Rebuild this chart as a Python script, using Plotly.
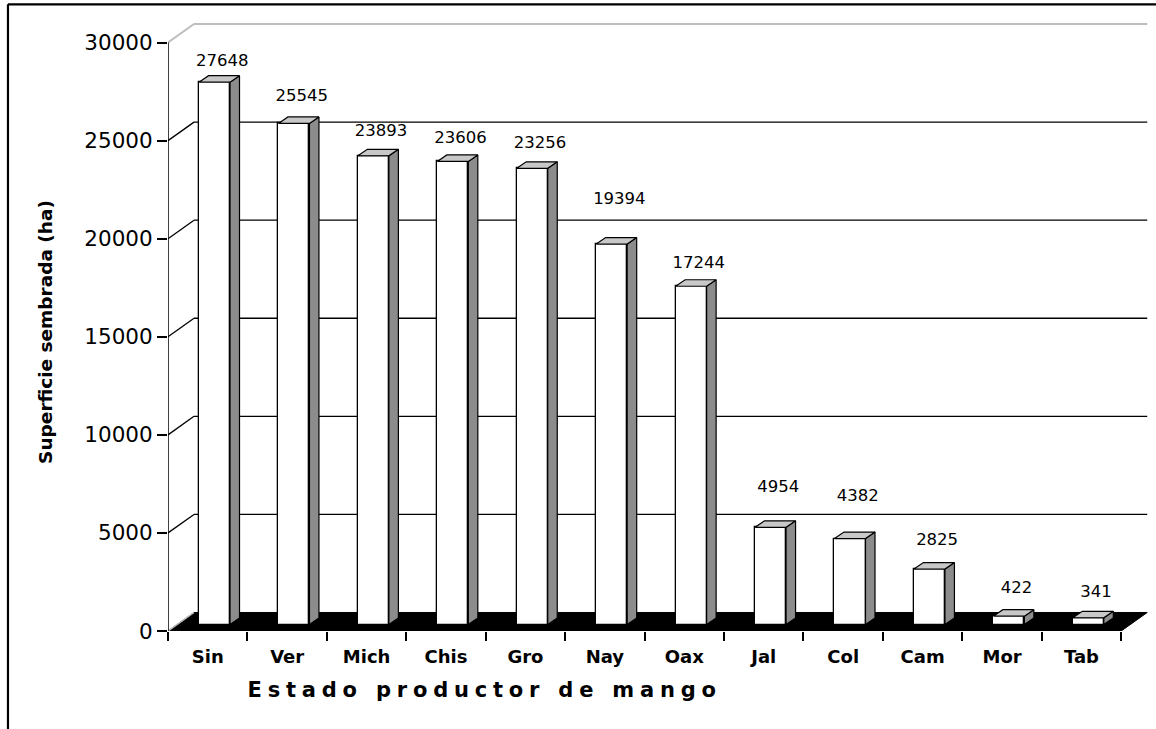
import plotly.graph_objects as go

# ---------------- data ----------------
states = ["Sin", "Ver", "Mich", "Chis", "Gro", "Nay", "Oax", "Jal", "Col", "Cam", "Mor", "Tab"]
area_ha = [27648, 25545, 23893, 23606, 23256, 19394, 17244, 4954, 4382, 2825, 422, 341]
y_ticks = [0, 5000, 10000, 15000, 20000, 25000, 30000]

# ---------------- styling / geometry (pixels) ----------------
W, H = 1156, 729
X0_PX = 168.0          # pixel of category axis start
UX = 79.42             # px per category
Y0_PX = 631.0          # pixel of value 0 (front)
UY = 588.3 / 30000     # px per value unit
XMAX = 12.4
YMAX = 31200

WALL_DX = 26 / UX
WALL_DY = 18.5 / UY
BAR_X0 = 31 / UX
BAR_W = 31 / UX
BAR_BASE = 6.5 / UY
SIDE_DX = 9.5 / UX
SIDE_DY = 6.5 / UY
LABEL_DX = 7.7 / UX
label_lift_px = [20, 27, 24, 23, 24, 44, 22, 39, 42, 28, 27, 25]

FONT = "DejaVu Sans, Verdana, sans-serif"
TOP_COLOR = "#C8C8C8"
SIDE_COLOR = "#8C8C8C"
WALL_EDGE = "#BDBDBD"
XTITLE_SIZE = 21
XTITLE_SPACING_PX = 5.8

ml = X0_PX
pw = XMAX * UX
mr = W - ml - pw
mb = H - Y0_PX
ph = YMAX * UY
mt = H - mb - ph


def px_to_paper_x(px):
    return (px - ml) / pw


def px_to_paper_y(py):
    return (Y0_PX - py) / ph


fig = go.Figure()

n = len(states)
centers = [i + BAR_X0 + BAR_W / 2 for i in range(n)]

# front faces
fig.add_trace(go.Bar(
    x=centers, y=area_ha, base=[BAR_BASE] * n, width=BAR_W,
    marker=dict(color="white", line=dict(color="black", width=1.3)),
    hoverinfo="skip", showlegend=False,
))

# top faces and side faces
tx, ty, sx, sy = [], [], [], []
for i, v in enumerate(area_ha):
    xl = i + BAR_X0
    xr = xl + BAR_W
    top = BAR_BASE + v
    tx += [xl, xr, xr + SIDE_DX, xl + SIDE_DX, xl, None]
    ty += [top, top, top + SIDE_DY, top + SIDE_DY, top, None]
    sx += [xr, xr, xr + SIDE_DX, xr + SIDE_DX, xr, None]
    sy += [BAR_BASE, top, top + SIDE_DY, BAR_BASE + SIDE_DY, BAR_BASE, None]

fig.add_trace(go.Scatter(x=sx, y=sy, mode="lines", fill="toself", fillcolor=SIDE_COLOR,
                         line=dict(color="black", width=1.2), hoverinfo="skip", showlegend=False))
fig.add_trace(go.Scatter(x=tx, y=ty, mode="lines", fill="toself", fillcolor=TOP_COLOR,
                         line=dict(color="black", width=1.2), hoverinfo="skip", showlegend=False))

# data labels
fig.add_trace(go.Scatter(
    x=[c + LABEL_DX for c in centers],
    y=[BAR_BASE + v + lift / UY for v, lift in zip(area_ha, label_lift_px)],
    mode="text", text=[str(v) for v in area_ha], textposition="middle center",
    textfont=dict(family=FONT, size=16.5, color="black"),
    hoverinfo="skip", showlegend=False, cliponaxis=False,
))

shapes = []
# back wall gridlines + side wall diagonals
for v in y_ticks:
    if v == 0:
        continue
    col = WALL_EDGE if v == y_ticks[-1] else "black"
    w = 2 if v == y_ticks[-1] else 1.3
    shapes.append(dict(type="line", xref="x", yref="y", x0=WALL_DX, y0=v + WALL_DY,
                       x1=n + WALL_DX, y1=v + WALL_DY, line=dict(color=col, width=w), layer="below"))
    shapes.append(dict(type="line", xref="x", yref="y", x0=0, y0=v,
                       x1=WALL_DX, y1=v + WALL_DY, line=dict(color=col, width=w), layer="below"))
# floor
shapes.append(dict(type="path", xref="x", yref="y",
                   path=f"M 0 0 L {n} 0 L {n + WALL_DX} {WALL_DY} L {WALL_DX} {WALL_DY} Z",
                   fillcolor="black", line=dict(color="black", width=1), layer="below"))
shapes.append(dict(type="line", xref="x", yref="y", x0=0, y0=0, x1=WALL_DX, y1=WALL_DY,
                   line=dict(color=WALL_EDGE, width=1.5), layer="below"))
# value axis line
shapes.append(dict(type="line", xref="x", yref="y", x0=0, y0=0, x1=0, y1=y_ticks[-1],
                   line=dict(color="black", width=1.5), layer="above"))
# outer border (top and left)
shapes.append(dict(type="line", xref="paper", yref="paper",
                   x0=px_to_paper_x(8), y0=px_to_paper_y(4.5), x1=px_to_paper_x(W), y1=px_to_paper_y(4.5),
                   line=dict(color="black", width=2.2)))
shapes.append(dict(type="line", xref="paper", yref="paper",
                   x0=px_to_paper_x(8), y0=px_to_paper_y(4.5), x1=px_to_paper_x(8), y1=px_to_paper_y(H + 2),
                   line=dict(color="black", width=2.2)))

annotations = [
    dict(text="Superficie sembrada (ha)", xref="paper", yref="paper",
         x=px_to_paper_x(46), y=px_to_paper_y(332), textangle=-90, showarrow=False,
         xanchor="center", yanchor="middle",
         font=dict(family=FONT, size=18.5, color="black", weight="bold")),
    dict(text="Estado productor de mango", xref="paper", yref="paper",
         x=px_to_paper_x(482 + XTITLE_SPACING_PX / 2), y=px_to_paper_y(690), showarrow=False,
         xanchor="center", yanchor="middle",
         font=dict(family=FONT, size=XTITLE_SIZE, color="black", weight="bold")),
]

fig.update_layout(
    width=W, height=H,
    margin=dict(l=ml, r=mr, t=mt, b=mb, autoexpand=False),
    paper_bgcolor="white", plot_bgcolor="white",
    barmode="overlay", bargap=0,
    shapes=shapes, annotations=annotations,
    xaxis=dict(
        range=[0, XMAX], showgrid=False, zeroline=False, showline=False,
        tickmode="array", tickvals=[i + 0.5 for i in range(n)], ticktext=states,
        ticks="outside", ticklen=9, tickcolor="rgba(0,0,0,0)",
        tickfont=dict(family=FONT, size=18, color="black", weight="bold"),
        minor=dict(tickmode="array", tickvals=list(range(n + 1)), ticks="outside",
                   ticklen=9, tickwidth=1.5, tickcolor="black", showgrid=False),
        fixedrange=True,
    ),
    yaxis=dict(
        range=[0, YMAX], showgrid=False, zeroline=False, showline=False,
        tickmode="array", tickvals=y_ticks, ticktext=[str(t) for t in y_ticks],
        ticks="outside", ticklen=10, tickwidth=1.5, tickcolor="black",
        tickfont=dict(family=FONT, size=21.5, color="black"),
        fixedrange=True,
    ),
)

post = (
    "document.body.style.margin='0';document.body.style.overflow='hidden';"
    "document.querySelectorAll('.annotation-text').forEach(function(t){"
    "if(t.textContent.indexOf('Estado')===0){t.style.letterSpacing='%spx';}});" % XTITLE_SPACING_PX
)

fig.write_html("out.html", config={"displayModeBar": False}, post_script=post)
